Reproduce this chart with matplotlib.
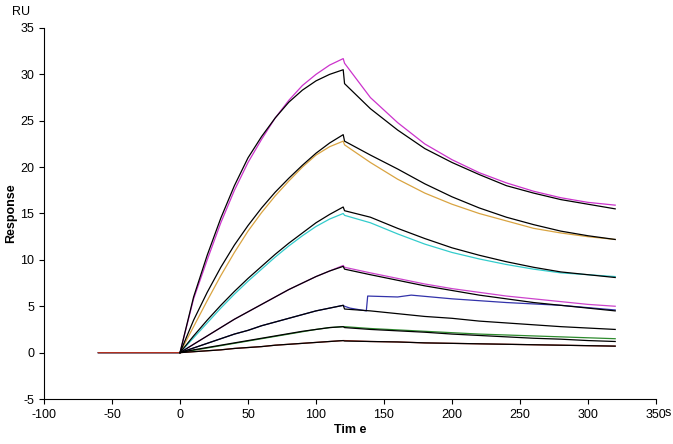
import matplotlib
matplotlib.use("Agg")
import matplotlib.pyplot as plt
import numpy as np

plt.rcParams["font.family"] = "Liberation Sans"
plt.rcParams["axes.unicode_minus"] = False

t_assoc = [-60, -40, -20, 0, 10, 20, 30, 40, 50, 60, 70, 80, 90, 100, 110, 120]
t_diss = [121, 140, 160, 180, 200, 220, 240, 260, 280, 300, 320]
base = [0, 0, 0, 0]

data_assoc = {
    "c1": [5.8, 10, 14, 17.5, 20.5, 23, 25.3, 27.2, 28.8, 30, 31, 31.7],
    "c2": [2.8, 5.6, 8.3, 10.8, 13.1, 15.1, 16.9, 18.5, 20, 21.3, 22.2, 22.8],
    "c3": [1.6, 3.2, 4.8, 6.3, 7.7, 9, 10.3, 11.5, 12.6, 13.6, 14.4, 15.0],
    "c4": [0.9, 1.8, 2.7, 3.6, 4.4, 5.2, 6.0, 6.8, 7.5, 8.2, 8.8, 9.4],
    "c5": [0.5, 1.0, 1.5, 2.0, 2.4, 2.9, 3.3, 3.7, 4.1, 4.5, 4.8, 5.1],
    "c6": [0.25, 0.5, 0.75, 1.0, 1.25, 1.5, 1.75, 2.0, 2.25, 2.5, 2.7, 2.8],
    "c7": [0.1, 0.2, 0.3, 0.45, 0.55, 0.65, 0.8, 0.9, 1.0, 1.1, 1.2, 1.3],
}
data_diss = {
    "c1": [31.2, 27.5, 24.8, 22.5, 20.8, 19.4, 18.3, 17.4, 16.7, 16.2, 15.9],
    "c2": [22.4, 20.5, 18.7, 17.2, 16.0, 15.0, 14.2, 13.4, 12.9, 12.5, 12.2],
    "c3": [14.8, 14.0, 12.8, 11.7, 10.8, 10.1, 9.5, 9.0, 8.6, 8.4, 8.2],
    "c4": [9.2, 8.6, 8.0, 7.4, 6.9, 6.5, 6.1, 5.8, 5.5, 5.2, 5.0],
    "c6": [2.8, 2.6, 2.45, 2.3, 2.15, 2.0, 1.9, 1.8, 1.7, 1.6, 1.5],
    "c7": [1.3, 1.2, 1.15, 1.05, 1.0, 0.95, 0.9, 0.85, 0.8, 0.75, 0.7],
}
t_blue = [121, 125, 137, 138, 160, 170, 200, 240, 280, 320]
y_blue = [5.0, 4.8, 4.5, 6.1, 6.0, 6.2, 5.8, 5.4, 5.1, 4.6]

fit_assoc = {
    "c1": [6.0, 10.5, 14.5, 18, 21, 23.3, 25.3, 27, 28.3, 29.3, 30, 30.5],
    "c2": [3.5, 6.5, 9.2, 11.6, 13.7, 15.6, 17.3, 18.8, 20.2, 21.5, 22.6, 23.5],
    "c3": [1.8, 3.5, 5.1, 6.6, 8.0, 9.3, 10.6, 11.8, 12.9, 14.0, 14.9, 15.7],
    "c4": [0.9, 1.8, 2.7, 3.6, 4.4, 5.2, 6.0, 6.8, 7.5, 8.2, 8.8, 9.3],
    "c5": [0.5, 1.0, 1.5, 2.0, 2.4, 2.9, 3.3, 3.7, 4.1, 4.5, 4.8, 5.1],
    "c6": [0.3, 0.55, 0.8, 1.05, 1.3, 1.55, 1.8, 2.05, 2.3, 2.5, 2.7, 2.8],
    "c7": [0.1, 0.2, 0.3, 0.45, 0.55, 0.65, 0.8, 0.9, 1.0, 1.1, 1.2, 1.3],
}
fit_diss = {
    "c1": [29.0, 26.3, 24.0, 22.0, 20.5, 19.2, 18.0, 17.2, 16.5, 16.0, 15.5],
    "c2": [22.8, 21.3, 19.8, 18.2, 16.8, 15.6, 14.6, 13.8, 13.1, 12.6, 12.2],
    "c3": [15.3, 14.6, 13.4, 12.3, 11.3, 10.5, 9.8, 9.2, 8.7, 8.4, 8.1],
    "c4": [9.0, 8.4, 7.8, 7.2, 6.7, 6.2, 5.8, 5.4, 5.1, 4.8, 4.5],
    "c5": [4.7, 4.5, 4.2, 3.9, 3.7, 3.4, 3.2, 3.0, 2.8, 2.65, 2.5],
    "c6": [2.7, 2.5, 2.35, 2.2, 2.0, 1.85, 1.7, 1.55, 1.45, 1.3, 1.2],
    "c7": [1.25, 1.2, 1.15, 1.05, 1.0, 0.95, 0.9, 0.85, 0.8, 0.75, 0.7],
}
colors = {"c1": "#cc33cc", "c2": "#d9a441", "c3": "#33cccc", "c4": "#cc44cc",
          "c5": "#3333aa", "c6": "#2e8b2e", "c7": "#b03020"}

fig = plt.figure(figsize=(6.73, 4.44), dpi=100)
ax = fig.add_axes([44/673, 45/444, 612/673, 371/444])

for k, ya in data_assoc.items():
    if k in data_diss:
        t = t_assoc + t_diss
        y = base + ya + data_diss[k]
    else:
        t = t_assoc + t_blue
        y = base + ya + y_blue
    ax.plot(t, y, color=colors[k], lw=0.9)
for k, ya in fit_assoc.items():
    ax.plot(t_assoc[3:] + t_diss, [0] + ya + fit_diss[k], color="black", lw=0.9)

ax.set_xlim(-100, 350)
ax.set_ylim(-5, 35)
ax.set_xticks(np.arange(-100, 351, 50))
ax.set_yticks(np.arange(-5, 36, 5))
for s in ["top", "right"]:
    ax.spines[s].set_visible(False)
ax.tick_params(labelsize=9)
ax.set_xlabel("Tim e", fontweight="bold", fontsize=9, labelpad=2)
ax.set_ylabel("Response", fontweight="bold", fontsize=9, labelpad=2)
fig.text(12/673, 1 - 12/444, "RU", fontsize=9, va="center")
fig.text(665/673, 1 - 413/444, "s", fontsize=9, va="center")
fig.savefig("out.png", dpi=100)
